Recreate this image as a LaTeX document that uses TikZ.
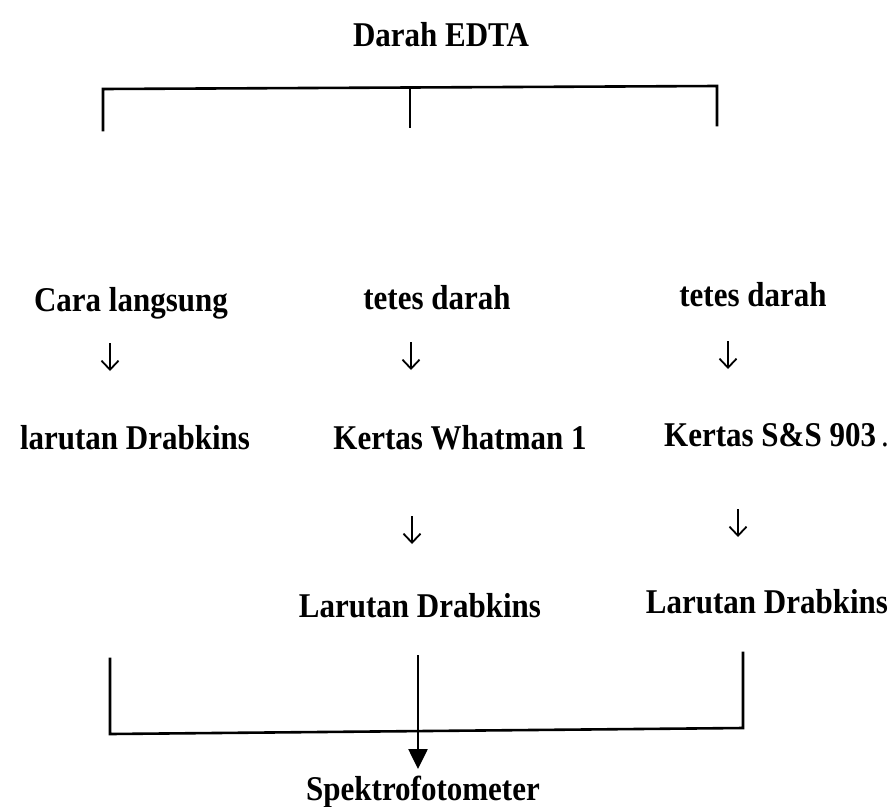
\documentclass[tikz,border=0pt]{standalone}
\usepackage{fontspec}
\setmainfont{Liberation Serif}
\usetikzlibrary{arrows.meta}
\newcommand{\tallbox}[1]{\scalebox{1}[1.12]{#1}}
\begin{document}
\begin{tikzpicture}[x=1pt,y=-1pt,
  lbl/.style={anchor=base, inner sep=0pt, font=\fontsize{31}{37}\selectfont\bfseries},
  downarrow/.style={line width=1.8pt, -{Straight Barb[length=9pt,width=17pt,line width=1.8pt]}},
  bracket/.style={line width=2.6pt, line cap=rect},
  final/.style={line width=2.6pt, -{Triangle[width=19pt,length=20pt]}}]
\useasboundingbox[fill=white] (0,0) rectangle (896,806);
% texts
\node[lbl] (darah) at (441,46) {\tallbox{Darah EDTA}};
\node[lbl] (cara) at (131,311) {\tallbox{Cara langsung}};
\node[lbl] (tetes1) at (437,309) {\tallbox{tetes darah}};
\node[lbl] (tetes2) at (753,306) {\tallbox{tetes darah}};
\node[lbl] (larutan1) at (135,449) {\tallbox{larutan Drabkins}};
\node[lbl] (whatman) at (460,449) {\tallbox{Kertas Whatman 1}};
\node[lbl, anchor=base west] (ss) at (664,446) {\tallbox{Kertas S\&S 903\,{\mdseries.}}};
\node[lbl] (larutan2) at (420,617) {\tallbox{Larutan Drabkins}};
\node[lbl] (larutan3) at (767,613) {\tallbox{Larutan Drabkins}};
\node[lbl] (spek) at (423,800) {\tallbox{Spektrofotometer}};
% short arrows between rows
\coordinate (a1s) at (110,343); \coordinate (a1e) at (110,371);
\coordinate (a2s) at (411,342); \coordinate (a2e) at (411,370);
\coordinate (a3s) at (728,341); \coordinate (a3e) at (728,369);
\coordinate (a4s) at (412,516); \coordinate (a4e) at (412,544);
\coordinate (a5s) at (738,509); \coordinate (a5e) at (738,537);
\draw[downarrow] (a1s) -- (a1e);
\draw[downarrow] (a2s) -- (a2e);
\draw[downarrow] (a3s) -- (a3e);
\draw[downarrow] (a4s) -- (a4e);
\draw[downarrow] (a5s) -- (a5e);
% top bracket
\coordinate (tl) at (103,89);
\coordinate (tm) at (410,87.5);
\coordinate (tr) at (717,86);
\coordinate (tlb) at (103,130);
\coordinate (tmb) at (410,127);
\coordinate (trb) at (717,125);
\draw[bracket] (tlb) -- (tl) -- (tr) -- (trb);
\draw[bracket] (tm) -- (tmb);
% bottom bracket
\coordinate (bl) at (110,659);
\coordinate (blc) at (110,734);
\coordinate (br) at (743,653);
\coordinate (brc) at (743,728);
\coordinate (bm) at (418,655);
\coordinate (tip) at (418,769);
\draw[bracket] (bl) -- (blc) -- (brc) -- (br);
\draw[final] (bm) -- (tip);
\end{tikzpicture}
\end{document}
